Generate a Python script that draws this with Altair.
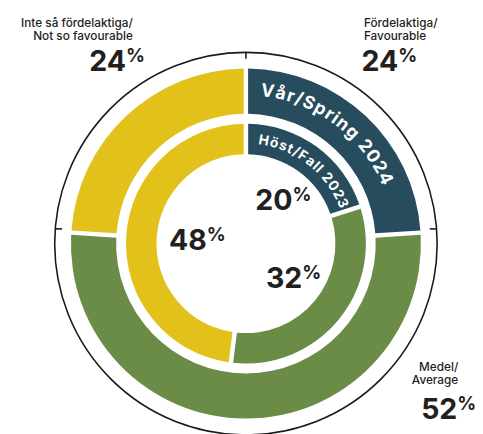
import math
import altair as alt
import pandas as pd

# ---- data ----
categories = ["Fördelaktiga", "Medel", "Inte så fördelaktiga"]
spring_2024 = [24, 52, 24]
fall_2023 = [20, 32, 48]
colors = ["#264c5d", "#6a8c47", "#e1c11a"]

outer_title = "Vår/Spring 2024"
inner_title = "Höst/Fall 2023"

FONT = "Inter"
DARK = "#231f20"
CX, CY = 242, 236  # ring centre inside the view

spring = pd.DataFrame({"cat": categories, "value": spring_2024, "order": [0, 1, 2]})
fall = pd.DataFrame({"cat": categories, "value": fall_2023, "order": [0, 1, 2]})

theta_scale = alt.Scale(domain=[0, 100])
color_enc = alt.Color("cat:N", scale=alt.Scale(domain=categories, range=colors), legend=None)


def ring(df, r_out, r_in, pad):
    return alt.Chart(df).mark_arc(radius=r_out, radius2=r_in, padAngle=pad).encode(
        theta=alt.Theta("value:Q", stack=True, scale=theta_scale),
        color=color_enc,
        order=alt.Order("order:Q"),
        x=alt.value(CX), y=alt.value(CY),
    )


# char widths (em) for curved labels
W = {"V": .68, "å": .6, "r": .42, "/": .4, "S": .62, "p": .62, "i": .28, "n": .62,
     "g": .62, " ": .28, "2": .6, "0": .64, "4": .62, "H": .72, "ö": .62, "s": .52,
     "t": .42, "F": .56, "a": .6, "l": .28, "3": .6}


def curved(s, a0, a1):
    w = [W.get(c, .6) for c in s]
    cen, acc = [], 0
    for wi in w:
        cen.append(acc + wi / 2)
        acc += wi
    rows = []
    for c, ce in zip(s, cen):
        if c == " ":
            continue
        t = (ce - cen[0]) / (cen[-1] - cen[0])
        ang = a0 + t * (a1 - a0)
        rows.append({"ch": c, "pos": ang / 3.6, "rot": ang})
    return pd.DataFrame(rows)


def curved_layer(df, radius, size):
    return alt.Chart(df).mark_text(
        radius=radius, font=FONT, fontWeight="bold", fontSize=size, color="white",
        align="center", baseline="middle"
    ).encode(
        theta=alt.Theta("pos:Q", scale=theta_scale),
        text="ch:N",
        angle=alt.Angle("rot:Q", scale=None),
        x=alt.value(CX), y=alt.value(CY),
    )


def pct_layers(df, radius):
    base = alt.Chart(df).encode(
        theta=alt.Theta("value:Q", stack=True, scale=theta_scale),
        order=alt.Order("order:Q"),
        x=alt.value(CX), y=alt.value(CY),
    )
    num = base.mark_text(radius=radius, font=FONT, fontWeight="bold", fontSize=29,
                         color=DARK, align="right", baseline="alphabetic", dx=15, dy=10
                         ).encode(text=alt.Text("value:Q"))
    pc = base.mark_text(radius=radius, font=FONT, fontWeight="bold", fontSize=19,
                        color=DARK, align="left", baseline="alphabetic", dx=15, dy=1
                        ).encode(text=alt.value("%"))
    return [num, pc]


def label(lines, x, y, align):
    return alt.Chart(pd.DataFrame({"a": [0]})).mark_text(
        text=lines, font=FONT, fontWeight=500, fontSize=12, lineHeight=13,
        color=DARK, align=align, baseline="alphabetic"
    ).encode(x=alt.value(x), y=alt.value(y))


def big(value, x, y):
    n = alt.Chart(pd.DataFrame({"a": [0]})).mark_text(
        text=str(value), font=FONT, fontWeight="bold", fontSize=29, color=DARK,
        align="right", baseline="alphabetic"
    ).encode(x=alt.value(x), y=alt.value(y))
    p = alt.Chart(pd.DataFrame({"a": [0]})).mark_text(
        text="%", font=FONT, fontWeight="bold", fontSize=19, color=DARK,
        align="left", baseline="alphabetic"
    ).encode(x=alt.value(x), y=alt.value(y - 9))
    return [n, p]


circle = alt.Chart(pd.DataFrame({"a": [0]})).mark_arc(
    radius=194.5, filled=False, stroke="#1a1a1a", strokeWidth=1.6
).encode(theta=alt.value(0), theta2=alt.value(2 * math.pi), x=alt.value(CX), y=alt.value(CY))


def tick(x, x2, y, y2):
    return alt.Chart(pd.DataFrame({"a": [0]})).mark_rule(color="#1a1a1a", strokeWidth=1.6).encode(
        x=alt.value(x), x2=alt.value(x2), y=alt.value(y), y2=alt.value(y2))


layers = [
    circle,
    tick(CX, CX, CY - 194.5, CY - 188),
    tick(48, 55, 221, 221),
    tick(429, 436, 221, 221),
    ring(spring, 178, 132, 0.02),
    ring(fall, 122, 91, 0.03),
    curved_layer(curved(outer_title, 8.1, 64.9), 156, 18),
    curved_layer(curved(inner_title, 9.8, 67.3), 106, 14),
    *pct_layers(fall, 55),
    label(["Inte så fördelaktiga/", "Not so favourable"], 127, 16, "right"),
    label(["Fördelaktiga/", "Favourable"], 362, 16, "left"),
    label(["Medel/", "Average"], 458, 366, "right"),
    *big(spring_2024[2], 120, 60),
    *big(spring_2024[0], 397, 60),
    *big(spring_2024[1], 457, 414),
]

chart = alt.layer(*layers).properties(
    width=475, height=426, padding=0, autosize=alt.AutoSizeParams(type="none")
).configure_view(stroke=None)

chart.save("out.html", embed_options={"renderer": "svg", "actions": False})
